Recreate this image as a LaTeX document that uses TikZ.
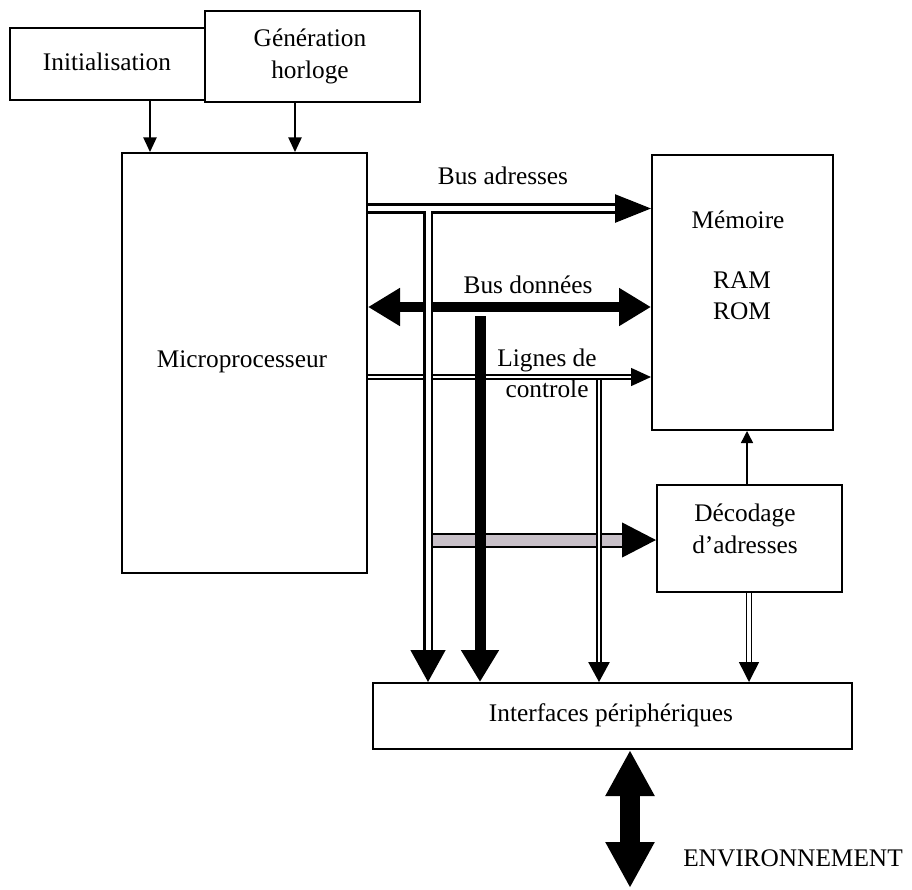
\documentclass[tikz,border=0pt]{standalone}
\usepackage{fontspec}
\setmainfont{Liberation Serif}
\usetikzlibrary{arrows.meta}
\definecolor{bargray}{RGB}{200,192,200}
\begin{document}
\begin{tikzpicture}[x=0.75pt,y=-0.75pt,
  box/.style={draw, line width=1.5pt, inner sep=0pt, fill=white},
  lbl/.style={inner sep=0pt, align=center, font=\fontsize{19}{24}\selectfont},
  thinarrow/.style={line width=1.1pt, -{Triangle[length=11pt,width=10pt]}},
  adrbus/.style={double, line width=1.9pt, double distance=3.75pt},
  ctlbus/.style={double, line width=1.1pt, double distance=1.9pt},
  decbus/.style={double=bargray, line width=1.5pt, double distance=8.25pt},
  decout/.style={double, line width=1.1pt, double distance=3pt},
  databus/.style={line width=7.5pt},
]
\useasboundingbox (0,0) rectangle (912,889);

% boxes
\node[box, minimum width={195*0.75pt}, minimum height={72*0.75pt}] (init) at (107.5,64) {};
\node[box, minimum width={215*0.75pt}, minimum height={91*0.75pt}] (gen) at (312.5,56.5) {};
\node[box, minimum width={245*0.75pt}, minimum height={420*0.75pt}] (micro) at (244.5,363) {};
\node[box, minimum width={181*0.75pt}, minimum height={275*0.75pt}] (mem) at (742.5,292.5) {};
\node[box, minimum width={185*0.75pt}, minimum height={107*0.75pt}] (dec) at (749.5,538.5) {};
\node[box, minimum width={479*0.75pt}, minimum height={66*0.75pt}] (intf) at (612.5,716) {};

% texts
\node[lbl] (tinit) at (107,62) {Initialisation};
\node[lbl] (tgen) at (310,56) {Génération\\horloge};
\node[lbl] (tmicro) at (242,362) {Microprocesseur};
\node[lbl] (tmem) at (738,220) {Mémoire};
\node[lbl] (tram) at (742,296) {RAM\\[-0.5pt]ROM};
\node[lbl] (tdec) at (745,529) {Décodage\\d’adresses};
\node[lbl] (tintf) at (611,715) {Interfaces périphériques};
\node[lbl] (tba) at (503,176) {Bus adresses};
\node[lbl] (tbd) at (528,285) {Bus données};
\node[lbl] (tlc1) at (547,360) {Lignes de};
\node[lbl] (tlc2) at (547,389) {controle};
\node[lbl] (tenv) at (793,858) {ENVIRONNEMENT};

% helper coordinates
\coordinate (xi) at (150,0);
\coordinate (xg) at (295,0);
\coordinate (yba) at (0,208.5);
\coordinate (ybd) at (0,307);
\coordinate (ylc) at (0,377);
\coordinate (ydc) at (0,540);
\coordinate (xv1) at (428,0);
\coordinate (xv1s) at (424,0);
\coordinate (xv2) at (480,0);
\coordinate (xv3) at (599,0);
\coordinate (xdm) at (747,0);
\coordinate (xdi) at (749,0);
\coordinate (xenv) at (630,0);
\coordinate (v1top) at (428,211);
\coordinate (v2top) at (480,316);
\coordinate (v3top) at (599,380);
\coordinate (envend) at (630,888);

% top arrows
\draw[thinarrow] (init.south -| xi) -- (micro.north -| xi);
\draw[thinarrow] (gen.south -| xg) -- (micro.north -| xg);

% horizontal buses
\draw[adrbus, -{Triangle[length=27pt,width=21pt]}] (micro.east |- yba) -- (mem.west |- yba);
\draw[databus, {Triangle[length=24pt,width=27pt]}-{Triangle[length=24pt,width=27pt]}] (micro.east |- ybd) -- (mem.west |- ybd);
\draw[ctlbus, -{Triangle[length=15pt,width=13.5pt]}] (micro.east |- ylc) -- (mem.west |- ylc);
\draw[decbus, -{Triangle[length=25.5pt,width=26pt]}] (xv1s |- ydc) -- (dec.west |- ydc);

% vertical buses
\draw[adrbus, -{Triangle[length=24pt,width=26pt]}] (v1top) -- (intf.north -| xv1);
\draw[line width=8.25pt, -{Triangle[length=24pt,width=27pt]}] (v2top) -- (intf.north -| xv2);
\draw[ctlbus, -{Triangle[length=15pt,width=16pt]}] (v3top) -- (intf.north -| xv3);

% decoder connections
\draw[thinarrow, -{Triangle[length=9pt,width=9pt]}] (dec.north -| xdm) -- (mem.south -| xdm);
\draw[decout, -{Triangle[length=15pt,width=15pt]}] (dec.south -| xdi) -- (intf.north -| xdi);

% environment
\draw[line width=15pt, {Triangle[length=34.5pt,width=34.5pt]}-{Triangle[length=34.5pt,width=34.5pt]}] (intf.south -| xenv) -- (envend);
\end{tikzpicture}
\end{document}
